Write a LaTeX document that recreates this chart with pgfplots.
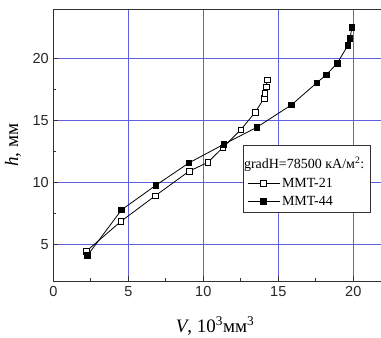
\documentclass[border=0pt]{standalone}
\usepackage{fontspec}
\setmainfont{Liberation Serif}
\newfontfamily\ticksf{Liberation Sans}
\usepackage{pgfplots}
\pgfplotsset{compat=1.18}
\usetikzlibrary{calc}
\definecolor{gridblue}{RGB}{95,95,225}
\definecolor{axgray}{RGB}{50,50,50}
\begin{document}
\begin{tikzpicture}
\begin{axis}[
  name=ax,
  scale only axis,
  width=330pt, height=272pt,
  xmin=0, xmax=22, ymin=2, ymax=24,
  xtick={0,5,10,15,20}, ytick={5,10,15,20},
  minor x tick num=1, minor y tick num=1,
  tick align=inside,
  major tick length=5pt, minor tick length=3pt,
  xtick pos=bottom, ytick pos=left,
  grid=major,
  major grid style={gridblue, line width=0.8pt},
  axis line style={axgray, line width=1.1pt},
  every tick/.style={axgray, line width=0.9pt},
  /pgf/number format/assume math mode=true,
  xticklabel={\ticksf\pgfmathprintnumber[assume math mode=true]{\tick}},
  yticklabel={\ticksf\pgfmathprintnumber[assume math mode=true]{\tick}},
  tick label style={font=\ticksf\fontsize{14.5}{16}\selectfont, text=black!85},
  xticklabel style={yshift=-2pt},
  yticklabel style={xshift=-1pt},
  xlabel={\textit{V}, 10\textsuperscript{3}мм\textsuperscript{3}},
  ylabel={\textit{h}, мм},
  label style={font=\fontsize{19}{21}\selectfont},
  xlabel style={at={(axis description cs:0.49,-0.165)}, anchor=center},
  ylabel style={at={(axis description cs:-0.122,0.5)}, anchor=center, rotate=0},
  legend style={at={(axis cs:12.63,13.0)}, anchor=north west,
    draw=axgray, line width=0.9pt, fill=white,
    font=\fontsize{14}{16}\selectfont, inner xsep=4pt, inner ysep=4pt,
    row sep=3.5pt, cells={anchor=west}},
  legend cell align=left,
  legend image code/.code={%
    \draw[mark repeat=2,mark phase=2] plot coordinates {(0pt,0pt)(16pt,0pt)(32pt,0pt)};},
]
\addlegendimage{empty legend}
\addlegendentry{\rule{0pt}{17pt}\hspace*{-38pt}gradH=78500 кА/м\textsuperscript{2}:}
\addplot[black, line width=0.8pt, mark=square*, mark options={fill=white, draw=black, line width=0.6pt}, mark size=2.8pt]
coordinates {
(2.22,4.45)(4.51,6.85)(6.78,8.9)(9.05,10.9)(10.29,11.61)(11.29,12.8)(12.49,14.25)(13.45,15.65)(14.05,16.8)(14.11,17.23)(14.18,17.72)(14.27,18.3)
};
\addlegendentry{MMT-21}
\addplot[black, line width=0.8pt, mark=square*, mark options={fill=black, draw=black}, mark size=2.8pt]
coordinates {
(2.27,4.08)(4.56,7.79)(6.83,9.76)(9.05,11.58)(11.38,13.09)(13.56,14.45)(15.89,16.28)(17.56,18.05)(18.2,18.7)(18.93,19.64)(19.63,21.06)(19.78,21.65)(19.91,22.55)
};
\addlegendentry{MMT-44}
\end{axis}
\pgfresetboundingbox
\path[use as bounding box] ($(ax.south west)+(-53.3pt,-56.3pt)$) rectangle ($(ax.north east)+(-2.3pt,9.3pt)$);
\end{tikzpicture}
\end{document}
